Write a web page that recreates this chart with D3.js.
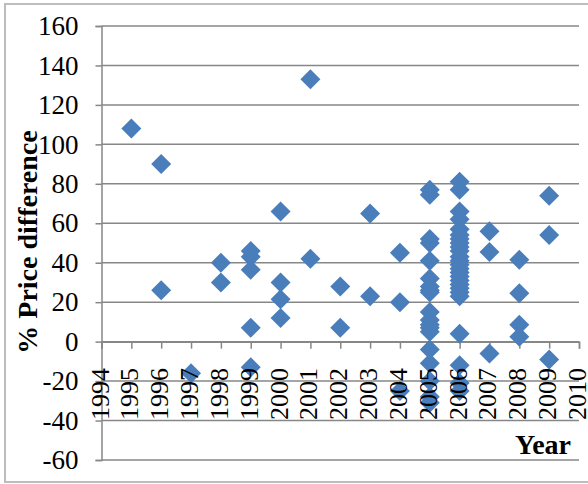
<!DOCTYPE html>
<html>
<head>
<meta charset="utf-8">
<script src="https://cdn.jsdelivr.net/npm/d3@7"></script>
<style>
  html, body { margin: 0; padding: 0; background: #fff; }
  svg { display: block; }
</style>
</head>
<body>
<svg id="chart" width="588" height="484"></svg>
<script>
// Observations: year of each sale and its % price difference
const years = [
  1995,
  1996, 1996,
  1997,
  1998, 1998,
  1999, 1999, 1999, 1999, 1999,
  2000, 2000, 2000, 2000,
  2001, 2001,
  2002, 2002,
  2003, 2003,
  2004, 2004, 2004,
  2005, 2005, 2005, 2005, 2005, 2005, 2005, 2005, 2005, 2005,
  2005, 2005, 2005, 2005, 2005, 2005, 2005, 2005, 2005,
  2006, 2006, 2006, 2006, 2006, 2006, 2006, 2006, 2006, 2006,
  2006, 2006, 2006, 2006, 2006, 2006, 2006, 2006, 2006, 2006,
  2006, 2006, 2006, 2006, 2006,
  2007, 2007, 2007,
  2008, 2008, 2008, 2008,
  2009, 2009, 2009
];
const priceDiff = [
  108,
  90, 26,
  -16,
  40, 30,
  46, 43, 36.5, 7, -13,
  66, 30, 21.5, 12,
  133, 42,
  28, 7,
  65, 23,
  45, 20, -25,
  77, 74.5, 52, 50, 41, 32, 28, 26, 25, 15,
  11, 8.5, 7, 5, -4, -11, -20, -28, -31,
  81, 77, 66, 62, 57, 54, 52, 50, 48, 46,
  43, 41, 39, 37, 35, 33, 31, 29, 27, 25,
  23, 4, -12, -21, -25,
  56, 45.5, -6,
  41.5, 24.5, 8.5, 2.5,
  74, 54, -9
];
const xTicks = d3.range(1994, 2011);
const yTicks = d3.range(-60, 161, 20);
const xTitle = "Year";
const yTitle = "% Price difference";

const svg = d3.select("#chart");
const font = "'Liberation Serif', 'Times New Roman', serif";
const gridColor = "#878787";

const x = d3.scaleLinear().domain([1994, 2010]).range([101.5, 579]);
const y = d3.scaleLinear().domain([-60, 160]).range([460, 26]);

// outer chart frame
svg.append("rect")
  .attr("x", 5).attr("y", 4).attr("width", 590).attr("height", 478)
  .attr("fill", "none").attr("stroke", "#bdbdbd").attr("stroke-width", 2);

// horizontal gridlines
svg.append("g")
  .selectAll("line")
  .data(yTicks)
  .join("line")
  .attr("x1", x(1994)).attr("x2", x(2010))
  .attr("y1", d => y(d)).attr("y2", d => y(d))
  .attr("stroke", gridColor).attr("stroke-width", 1.5);

// vertical axis with outward ticks
const yAxis = svg.append("g")
  .attr("transform", `translate(${x(1994)},0)`)
  .call(d3.axisLeft(y).tickValues(yTicks).tickSize(6).tickPadding(17).tickFormat(d => String(d)));
yAxis.select(".domain").attr("stroke", gridColor).attr("stroke-width", 1.5);
yAxis.selectAll(".tick line").attr("stroke", gridColor).attr("stroke-width", 1.5);
yAxis.selectAll(".tick text")
  .attr("font-family", font).attr("font-size", 27).attr("fill", "#000");

// horizontal axis at zero, ticks pointing down
const xAxis = svg.append("g")
  .attr("transform", `translate(0,${y(0)})`)
  .call(d3.axisBottom(x).tickValues(xTicks).tickSize(7).tickFormat(""));
xAxis.select(".domain").attr("stroke", gridColor).attr("stroke-width", 1.5);
xAxis.selectAll(".tick line").attr("stroke", gridColor).attr("stroke-width", 1.5);

// diamond markers
const diamond = "M0,-10L10,0L0,10L-10,0Z";
svg.append("g")
  .selectAll("path")
  .data(years.map((yr, i) => [yr, priceDiff[i]]))
  .join("path")
  .attr("d", diamond)
  .attr("transform", d => `translate(${x(d[0])},${y(d[1])})`)
  .attr("fill", "#4a7ebb");

// rotated year labels drawn over the markers
svg.append("g")
  .selectAll("text")
  .data(xTicks)
  .join("text")
  .attr("transform", d => `translate(${x(d) + 0.5},368) rotate(-90)`)
  .attr("text-anchor", "end")
  .attr("dy", "0.25em")
  .attr("font-family", font).attr("font-size", 26).attr("fill", "#000")
  .text(d => d);

// axis titles
svg.append("text")
  .attr("transform", "translate(27,242) rotate(-90)")
  .attr("text-anchor", "middle")
  .attr("dy", "0.35em")
  .attr("font-family", font).attr("font-size", 28).attr("font-weight", "bold")
  .text(yTitle);

svg.append("text")
  .attr("x", 571).attr("y", 454)
  .attr("text-anchor", "end")
  .attr("font-family", font).attr("font-size", 28).attr("font-weight", "bold")
  .text(xTitle);
</script>
</body>
</html>
